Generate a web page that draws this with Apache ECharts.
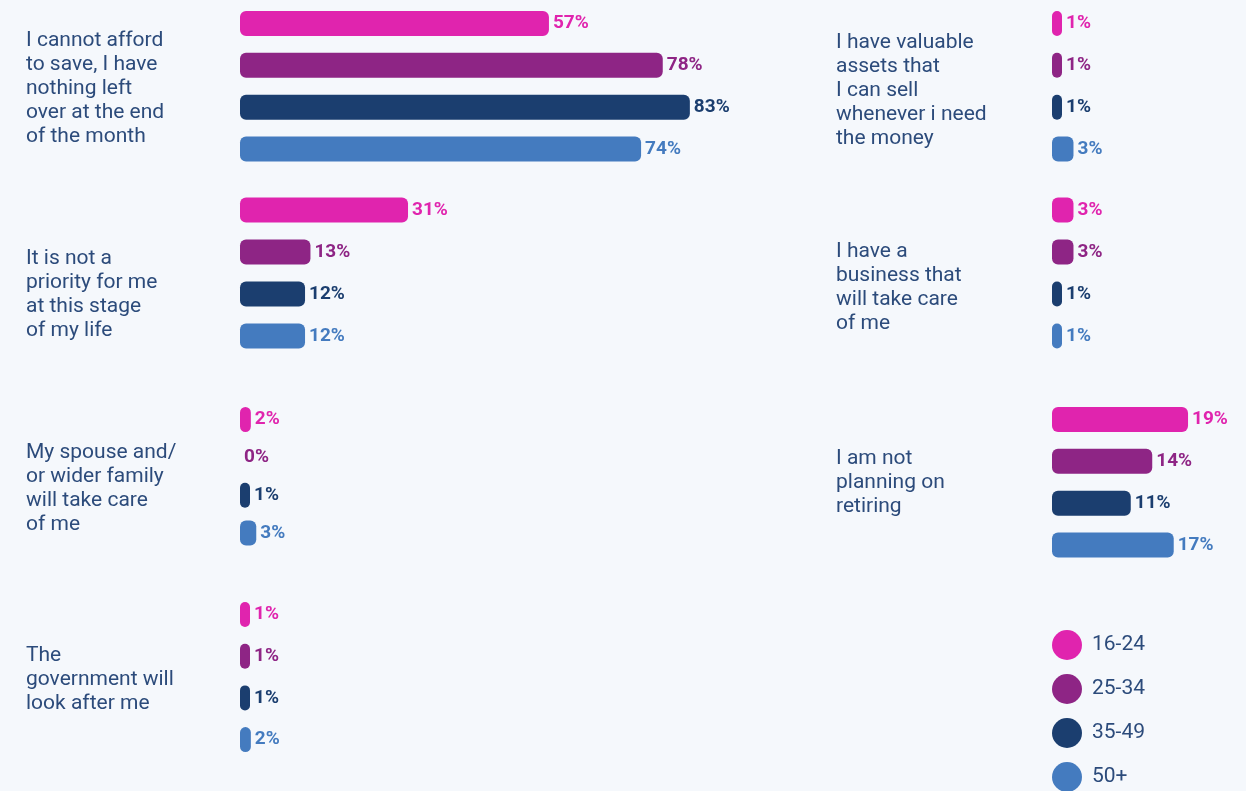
<!DOCTYPE html>
<html>
<head>
<meta charset="utf-8">
<script src="https://cdn.jsdelivr.net/npm/echarts@6/dist/echarts.min.js"></script>
<style>
  html, body { margin: 0; padding: 0; background: #f5f8fc; }
  #chart { width: 1246px; height: 791px; }
</style>
</head>
<body>
<div id="chart"></div>
<script>
// Reasons for not saving for retirement, by age group (% of respondents)
const reasons = [
  'I cannot afford\nto save, I have\nnothing left\nover at the end\nof the month',
  'It is not a\npriority for me\nat this stage\nof my life',
  'My spouse and/\nor wider family\nwill take care\nof me',
  'The\ngovernment will\nlook after me',
  'I have valuable\nassets that\nI can sell\nwhenever i need\nthe money',
  'I have a\nbusiness that\nwill take care\nof me',
  'I am not\nplanning on\nretiring'
];
const ageGroups = ['16-24', '25-34', '35-49', '50+'];
const age16to24 = [57, 31, 2, 1, 1, 3, 19];
const age25to34 = [78, 13, 0, 1, 1, 3, 14];
const age35to49 = [83, 12, 1, 1, 1, 1, 11];
const age50plus = [74, 12, 3, 2, 3, 1, 17];

const seriesValues = [age16to24, age25to34, age35to49, age50plus];
const ageColors = ['#e024ae', '#8e2585', '#1b3e6f', '#447bbf'];

// Panel layout: grid box for each reason's bar group plus where its label sits
const panels = [
  { left: 240,  top: 2.6,   height: 167.3, max: 100, width: 542, tx: 26,  ty: 28.5 },
  { left: 240,  top: 189,   height: 168,   max: 100, width: 542, tx: 26,  ty: 247 },
  { left: 240,  top: 400.6, height: 151.3, max: 100, width: 542, tx: 26,  ty: 441 },
  { left: 240,  top: 593.7, height: 166.7, max: 100, width: 542, tx: 26,  ty: 644 },
  { left: 1052, top: 2.6,   height: 167.3, max: 25,  width: 179, tx: 836, ty: 31 },
  { left: 1052, top: 189,   height: 168,   max: 25,  width: 179, tx: 836, ty: 240 },
  { left: 1052, top: 398.6, height: 167.3, max: 25,  width: 179, tx: 836, ty: 447 }
];

const textColor = '#2c4b7b';
const grid = [], xAxis = [], yAxis = [], series = [], graphic = [];

panels.forEach((p, g) => {
  grid.push({ left: p.left, top: p.top, width: p.width, height: p.height, containLabel: false });
  xAxis.push({ type: 'value', gridIndex: g, min: 0, max: p.max, show: false });
  yAxis.push({ type: 'category', gridIndex: g, data: ageGroups, inverse: true, show: false });
  ageGroups.forEach((age, a) => {
    const v = seriesValues[a][g];
    const data = ageGroups.map((_, i) => (i === a ? v : '-'));
    series.push({
      name: age,
      type: 'bar',
      xAxisIndex: g,
      yAxisIndex: g,
      stack: 'panel' + g,
      barWidth: 25,
      barMinHeight: v > 0 ? 10 : 0,
      data: data,
      itemStyle: { color: ageColors[a], borderRadius: 6 },
      label: {
        show: true,
        position: 'right',
        distance: 4,
        formatter: '{c}%',
        color: ageColors[a],
        fontFamily: 'Roboto',
        fontWeight: 'bold',
        fontSize: 19
      },
      emphasis: { disabled: true }
    });
  });
  graphic.push({
    type: 'text',
    left: p.tx,
    top: p.ty,
    style: {
      text: reasons[g],
      fill: textColor,
      font: '21px Roboto',
      lineHeight: 24
    }
  });
});

const chart = echarts.init(document.getElementById('chart'));
chart.setOption({
  backgroundColor: '#f5f8fc',
  animation: false,
  grid: grid,
  xAxis: xAxis,
  yAxis: yAxis,
  series: series,
  graphic: graphic,
  legend: {
    data: ageGroups,
    orient: 'vertical',
    left: 1052,
    top: 630,
    height: 200,
    padding: 0,
    icon: 'circle',
    itemWidth: 30,
    itemHeight: 30,
    itemGap: 14,
    textStyle: {
      color: textColor,
      fontFamily: 'Roboto',
      fontSize: 21,
      padding: [0, 0, 0, 5]
    }
  }
});
</script>
</body>
</html>
